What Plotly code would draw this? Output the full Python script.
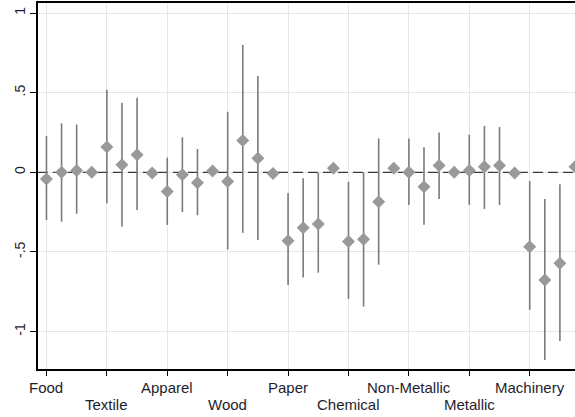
import plotly.graph_objects as go

categories = ["Food", "Textile", "Apparel", "Wood", "Paper", "Chemical",
              "Non-Metallic", "Metallic", "Machinery"]
per_group = 4

# point estimates (4 per category)
estimates = [-0.042, 0.000, 0.012, 0.000,
             0.159, 0.048, 0.110, -0.005,
             -0.120, -0.015, -0.065, 0.008,
             -0.057, 0.200, 0.088, -0.007,
             -0.430, -0.348, -0.325, 0.025,
             -0.435, -0.420, -0.185, 0.025,
             0.000, -0.090, 0.042, 0.000,
             0.012, 0.035, 0.042, -0.005,
             -0.467, -0.676, -0.571, 0.035]
ci_upper = [0.228, 0.307, 0.300, 0.000,
            0.519, 0.437, 0.468, -0.005,
            0.092, 0.220, 0.146, 0.008,
            0.380, 0.800, 0.605, 0.020,
            -0.130, -0.038, -0.002, 0.025,
            -0.060, 0.000, 0.213, 0.025,
            0.213, 0.157, 0.250, 0.000,
            0.236, 0.290, 0.284, -0.005,
            -0.055, -0.168, -0.075, 0.035]
ci_lower = [-0.300, -0.310, -0.260, 0.000,
            -0.195, -0.340, -0.237, -0.005,
            -0.330, -0.250, -0.270, 0.008,
            -0.485, -0.380, -0.425, -0.035,
            -0.707, -0.660, -0.630, 0.025,
            -0.795, -0.843, -0.580, 0.025,
            -0.205, -0.330, -0.168, 0.000,
            -0.205, -0.230, -0.205, -0.005,
            -0.864, -1.178, -1.059, 0.035]
ytick_vals = [-1, -0.5, 0, 0.5, 1]
ytick_text = ["-1", "-.5", "0", ".5", "1"]

x_range = [-0.56, 35.0]
y_range = [-1.235, 1.063]

x = list(range(len(estimates)))
err_plus = [u - e for u, e in zip(ci_upper, estimates)]
err_minus = [e - l for e, l in zip(estimates, ci_lower)]

tick_pos = [i * per_group for i in range(len(categories))]

fig = go.Figure()
# dashed reference line at zero (drawn first, beneath the markers)
fig.add_trace(go.Scatter(
    x=[x_range[0] - 1, x_range[1] + 1], y=[0, 0], mode="lines",
    line=dict(color="#3a3a3a", width=1.3, dash="10px,5px"),
    hoverinfo="skip", showlegend=False,
))
fig.add_trace(go.Scatter(
    x=x, y=estimates, mode="markers",
    marker=dict(symbol="diamond", size=10, color="#999999", line=dict(width=0)),
    error_y=dict(type="data", symmetric=False, array=err_plus, arrayminus=err_minus,
                 width=0, thickness=1.6, color="#7a7a7a"),
    showlegend=False,
))

for i, (pos, cat) in enumerate(zip(tick_pos, categories)):
    fig.add_annotation(x=pos, xref="x", y=0, yref="paper", text=cat,
                       showarrow=False, xanchor="center", yanchor="middle",
                       yshift=-18 if i % 2 == 0 else -35,
                       font=dict(family="Liberation Sans, Arial, sans-serif",
                                 size=15, color="#1e1e2e"))

fig.update_layout(
    width=575, height=417,
    margin=dict(l=38, r=0, t=3, b=48),
    paper_bgcolor="white", plot_bgcolor="white",
    font=dict(family="Liberation Sans, Arial, sans-serif", size=14, color="#1e1e2e"),
    xaxis=dict(
        range=x_range,
        tickmode="array", tickvals=tick_pos, showticklabels=False,
        showgrid=True, gridcolor="#e6e6e6", gridwidth=1,
        showline=True, linecolor="black", linewidth=1.5, mirror=True,
        ticks="outside", ticklen=5, tickcolor="black", tickwidth=1,
        zeroline=False,
    ),
    yaxis=dict(
        range=y_range,
        tickmode="array", tickvals=ytick_vals, ticktext=ytick_text,
        tickangle=-90,
        showgrid=True, gridcolor="#e6e6e6", gridwidth=1,
        showline=True, linecolor="black", linewidth=1.5,
        ticks="outside", ticklen=6, tickcolor="black", tickwidth=1,
        zeroline=False,
    ),
)

fig.write_html("out.html")
